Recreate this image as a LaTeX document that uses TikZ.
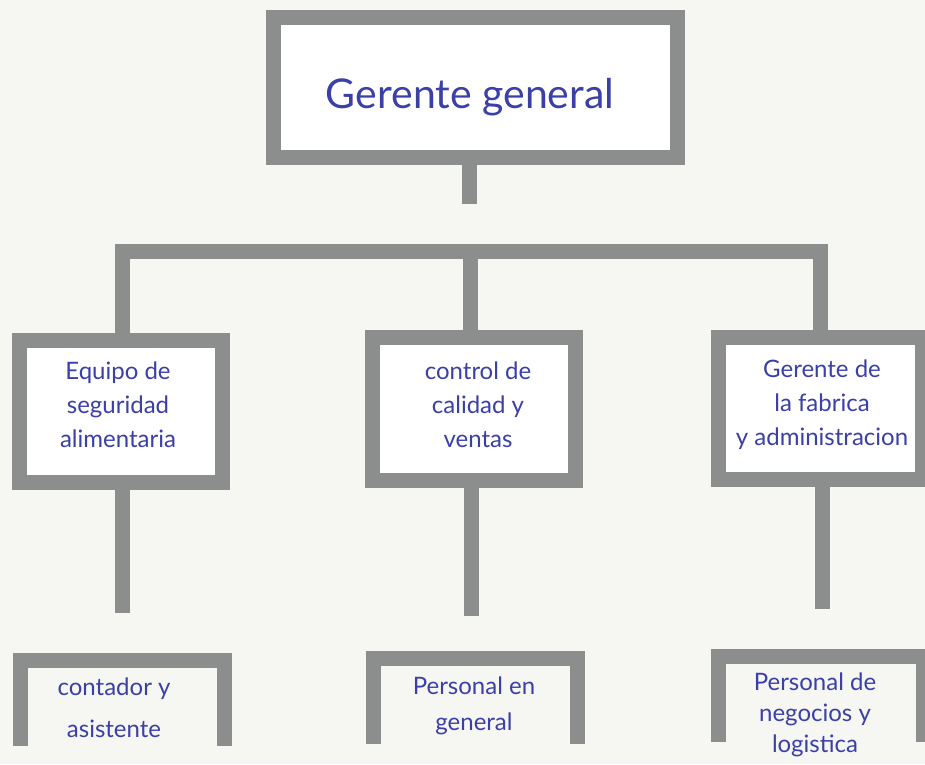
\documentclass[tikz,border=0pt]{standalone}
\usepackage{fontspec}
\setmainfont{Lato}
\definecolor{paper}{HTML}{F6F6F2}
\definecolor{boxgray}{HTML}{8C8E8E}
\definecolor{ink}{HTML}{3B3FA8}
\tikzset{
  box/.style={rectangle, draw=boxgray, line width=15pt, fill=white, inner sep=0pt},
  openbox/.style={rectangle, draw=none, inner sep=0pt},
  bar/.style={draw=boxgray, line width=15pt, line join=miter, line cap=butt},
  txt/.style={text=ink, align=center, inner sep=0pt},
  big/.style={font=\fontsize{41}{44}\selectfont},
  mid/.style={font=\fontsize{24}{34}\selectfont},
}
\begin{document}
\begin{tikzpicture}[x=1pt,y=-1pt]
\fill[paper] (0,0) rectangle (925,764);
\useasboundingbox (0,0) rectangle (925,764);
\clip (0,0) rectangle (925,764);
% top box
\node[box, minimum width=404pt, minimum height=140pt] (top) at (475.5,87.5) {};
% second row
\node[box, minimum width=203pt, minimum height=142pt] (L) at (121,411.5) {};
\node[box, minimum width=203pt, minimum height=143pt] (M) at (474,409) {};
\node[box, minimum width=204pt, minimum height=142pt] (R) at (820.5,408.5) {};
% third row (open at the bottom)
\node[openbox, minimum width=204pt, minimum height=85.5pt] (L3) at (122.5,703.25) {};
\node[openbox, minimum width=204pt, minimum height=85.5pt] (M3) at (475.5,701.25) {};
\node[openbox, minimum width=204pt, minimum height=85.5pt] (R3) at (821,699.25) {};
\foreach \n in {L3,M3,R3}{
  \draw[bar] (\n.south west) -- (\n.north west) -- (\n.north east) -- (\n.south east);
}
% connectors
\coordinate (stemend) at (469.5,204);
\draw[bar] (top.south -| stemend) -- (stemend);
\coordinate (barL) at (122,251);
\coordinate (barR) at (820,251);
\coordinate (barM) at (470,251);
\draw[bar] (L.north -| barL) -- (barL) -- (barR) -- (R.north -| barR);
\draw[bar] (barM) -- (M.north -| barM);
\coordinate (dL) at (122.5,613);
\coordinate (dM) at (471.5,616);
\coordinate (dR) at (822.5,609);
\draw[bar] (L.south -| dL) -- (dL);
\draw[bar] (M.south -| dM) -- (dM);
\draw[bar] (R.south -| dR) -- (dR);
% texts
\node[txt, big] (tTop) at (470,97) {Gerente general};
\node[txt, mid] (tL) at (118,405) {Equipo de\\seguridad\\alimentaria};
\node[txt, mid] (tM) at (478,405) {control de\\calidad y\\ventas};
\node[txt, mid] (tR) at (822,405) {Gerente de\\la fabrica\\y administracion};
\node[txt, font=\fontsize{24}{42}\selectfont] (tL3) at (114,708) {contador y\\asistente};
\node[txt, font=\fontsize{24}{36}\selectfont] (tM3) at (474,706) {Personal en\\general};
\node[txt, font=\fontsize{24}{31}\selectfont] (tR3) at (815,715) {Personal de\\negocios y\\logistica};
\end{tikzpicture}
\end{document}
